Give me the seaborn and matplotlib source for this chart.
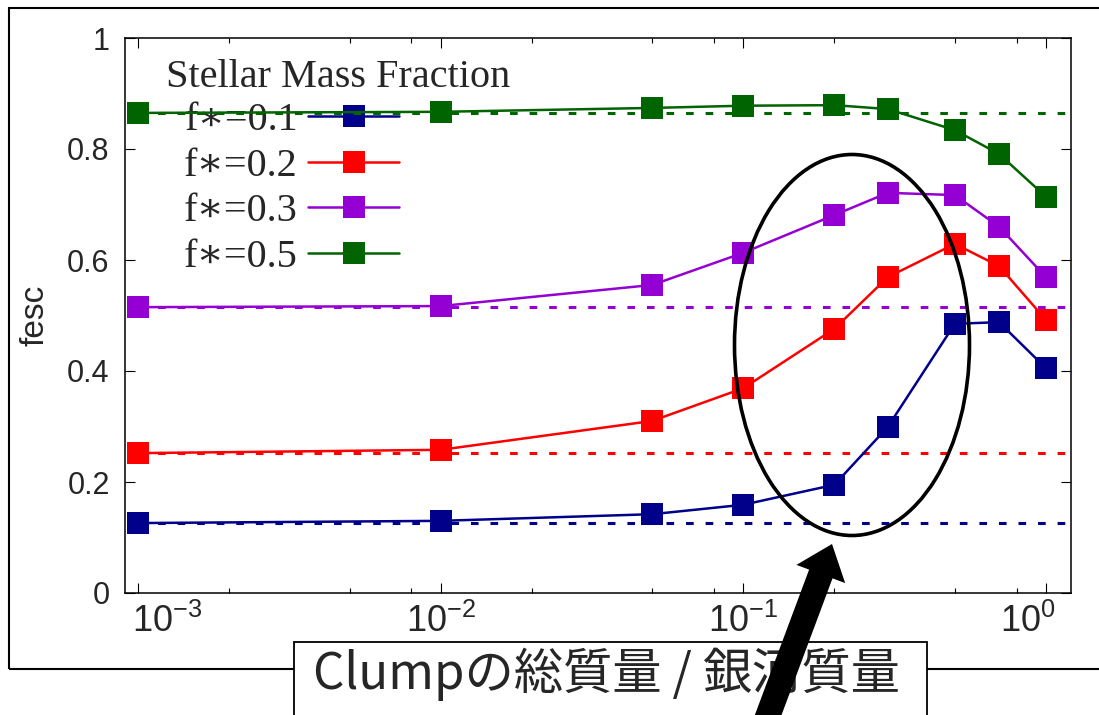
import numpy as np
import pandas as pd
import matplotlib
matplotlib.use("Agg")
import matplotlib.pyplot as plt
import matplotlib.transforms as mtransforms
from matplotlib.patches import Ellipse, Rectangle, FancyArrow
from matplotlib.ticker import FixedLocator, LogLocator, NullFormatter, FixedFormatter
from matplotlib.font_manager import FontProperties
import seaborn as sns

# ---- data -------------------------------------------------------------
mass_ratio = [1e-3, 1e-2, 5e-2, 0.1, 0.2, 0.3, 0.5, 0.7, 1.0]
fesc_f01 = [0.126, 0.130, 0.142, 0.159, 0.195, 0.299, 0.485, 0.488, 0.405]
fesc_f02 = [0.252, 0.258, 0.310, 0.369, 0.476, 0.569, 0.629, 0.589, 0.492]
fesc_f03 = [0.515, 0.517, 0.555, 0.613, 0.681, 0.721, 0.717, 0.660, 0.569]
fesc_f05 = [0.865, 0.867, 0.874, 0.878, 0.879, 0.872, 0.834, 0.791, 0.714]
baseline = [0.126, 0.252, 0.515, 0.865]   # single-clump reference levels
series_labels = ["f\u2217=0.1", "f\u2217=0.2", "f\u2217=0.3", "f\u2217=0.5"]
series_colors = ["#00008b", "#ff0000", "#9400d3", "#006400"]
ytick_values = [0, 0.2, 0.4, 0.6, 0.8, 1.0]
ytick_labels = ["0", "0.2", "0.4", "0.6", "0.8", "1"]
xtick_values = [1e-3, 1e-2, 1e-1, 1.0]
legend_title = "Stellar Mass Fraction"
y_label = "fesc"
x_label = "Clumpの総質量 / 銀河質量"

# ---- style ------------------------------------------------------------
sns.set_style("ticks")
plt.rcParams["font.family"] = ["Liberation Sans", "DejaVu Sans"]
plt.rcParams["mathtext.default"] = "regular"

W, H = 1099, 715
fig = plt.figure(figsize=(W / 100, H / 100), dpi=100)
fig.patch.set_facecolor("white")
# pixel coordinates measured from the top-left corner of the canvas
px = mtransforms.Affine2D().scale(1 / W, -1 / H).translate(0, 1) + fig.transFigure

ax = fig.add_axes([125 / W, 1 - 593 / H, (1071 - 125) / W, (593 - 38) / H])
ax.set_facecolor("white")

df = pd.DataFrame({
    "mass": mass_ratio * 4,
    "fesc": fesc_f01 + fesc_f02 + fesc_f03 + fesc_f05,
    "series": np.repeat(series_labels, len(mass_ratio)),
})

sns.lineplot(data=df, x="mass", y="fesc", hue="series", hue_order=series_labels,
             palette=series_colors, marker="s", markersize=15.2, markeredgewidth=0,
             linewidth=1.8, errorbar=None, legend=False, ax=ax, zorder=3)
handles = list(ax.lines[:4])

# dashed reference levels
for level, col in zip(baseline, series_colors):
    ax.axhline(level, xmin=13 / 946, xmax=941 / 946, color=col, lw=2.2,
               dashes=(2.5, 3.9), zorder=2)

ax.set_xscale("log")
ax.set_xlim(9.06e-4, 1.21)
ax.set_ylim(0, 1)
ax.xaxis.set_major_locator(FixedLocator(xtick_values))
ax.xaxis.set_minor_locator(LogLocator(base=10, subs=[2, 5, 8], numticks=20))
ax.xaxis.set_minor_formatter(NullFormatter())
ax.yaxis.set_major_locator(FixedLocator(ytick_values))
ax.yaxis.set_major_formatter(FixedFormatter(ytick_labels))
ax.tick_params(which="both", direction="in", top=True, right=True, color="black", width=0.8)
ax.tick_params(which="major", length=7.2)
ax.tick_params(which="minor", length=3.6)
ax.tick_params(axis="y", labelsize=22, pad=11)
ax.tick_params(axis="x", labelsize=26, pad=8)
for s in ax.spines.values():
    s.set_linewidth(1.1)
    s.set_color("black")

ax.set_xlabel("")
ax.set_ylabel(y_label, fontsize=24)
ax.yaxis.set_label_coords(-0.079, 0.5)

# legend (drawn beneath the data lines)
leg = ax.legend(handles, series_labels, loc="upper left", bbox_to_anchor=(184, 102),
                bbox_transform=px, frameon=False, borderpad=0, borderaxespad=0,
                handlelength=2.25, handletextpad=0.26, labelspacing=0.21,
                markerfirst=False,
                prop=FontProperties(family=["Liberation Serif", "DejaVu Serif"], size=29))
leg.set_zorder(1)
fig.text(166, 87, legend_title, transform=px, ha="left", va="baseline",
         family="Liberation Serif", fontsize=29)

# outer frame
fig.add_artist(Rectangle((9, 669), 1200, -661, transform=px, fill=False,
                         edgecolor="black", lw=1.5, zorder=1))

# highlighted region
fig.add_artist(Ellipse((852 / W, 1 - 345 / H), 235 / W, 381 / H, transform=fig.transFigure,
                       fill=False, edgecolor="black", lw=2.6, zorder=5))

# x-axis caption box
fig.add_artist(Rectangle((294, 642), 633, 120, transform=px, facecolor="white",
                         edgecolor="black", lw=1.3, zorder=6))
fig.text(606, 674, x_label, transform=px, ha="center", va="center",
         family=["Noto Sans CJK JP", "DejaVu Sans"], fontsize=35.5, zorder=7)

# arrow pointing at the ellipse
fig.add_artist(FancyArrow(757, 745, 75, -201, width=25, head_width=52, head_length=32,
                          length_includes_head=True, transform=px, color="black",
                          lw=0, zorder=8))

# end tick labels sit inward of the frame
fig.canvas.draw()
majors = ax.xaxis.get_major_ticks()
shifts = [29, 0, 0, -18]
for t, s in zip(majors, shifts):
    t.label1.set_transform(t.label1.get_transform()
                           + mtransforms.ScaledTranslation(s / 100, 0, fig.dpi_scale_trans))

fig.savefig("out.png", dpi=100, facecolor="white")
